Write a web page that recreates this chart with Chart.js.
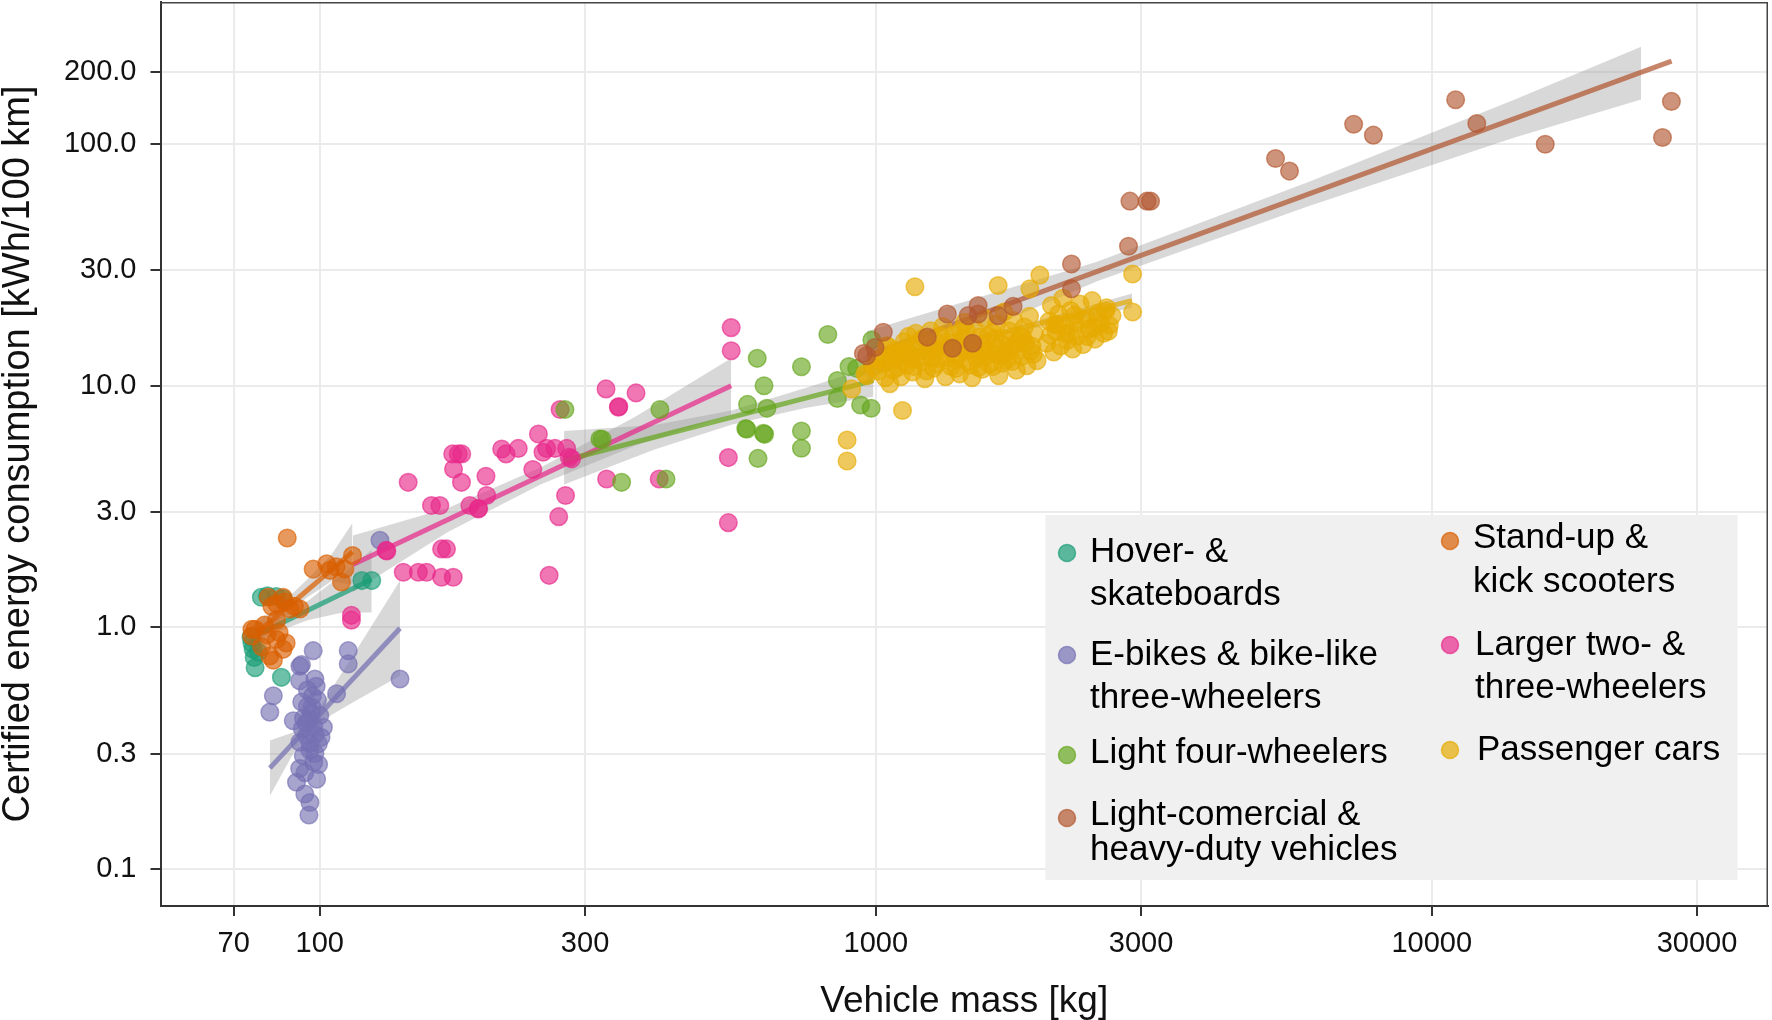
<!DOCTYPE html>
<html>
<head>
<meta charset="utf-8">
<title>Energy consumption vs vehicle mass</title>
<script src="https://cdn.jsdelivr.net/npm/chart.js@4.4.0/dist/chart.umd.min.js"></script>
<style>
  html, body { margin: 0; padding: 0; background: #fff; }
  canvas { display: block; }
</style>
</head>
<body>
<canvas id="massChart" width="1772" height="1020"></canvas>
<script>
// axis ticks
const xTicks = [70, 100, 300, 1000, 3000, 10000, 30000];
const xTickLabels = ['70', '100', '300', '1000', '3000', '10000', '30000'];
const yTicks = [0.1, 0.3, 1, 3, 10, 30, 100, 200];
const yTickLabels = ['0.1', '0.3', '1.0', '3.0', '10.0', '30.0', '100.0', '200.0'];

// Hover- & skateboards
const hoverMass = [78.5, 80.5, 83.5, 86, 119, 124, 75.9, 75.5, 76.5, 76.2, 85.3, 75.2, 77.5];
const hoverCons = [1.33, 1.35, 1.34, 1.31, 1.56, 1.56, 0.81, 0.86, 0.68, 0.75, 0.62, 0.91, 0.79];

// Stand-up & kick scooters
const scooterMass = [87.4, 97.3, 102.9, 104.3, 110.9, 114.5, 109.4, 107, 80.8, 85.9, 83.6, 88.4, 92.1, 82, 86.5, 90, 83.6, 76.5, 75.4, 80.3, 83.6, 85.9, 81.3, 78.6, 82.5, 79.5, 84.5, 87, 75.5];
const scooterCons = [2.34, 1.74, 1.83, 1.72, 1.74, 1.98, 1.54, 1.78, 1.33, 1.33, 1.25, 1.19, 1.19, 1.22, 1.27, 1.22, 1.07, 0.98, 0.92, 0.93, 0.89, 0.81, 0.76, 0.83, 0.73, 1.02, 0.95, 0.86, 0.98];

// E-bikes & bike-like three-wheelers
const ebikeMass = [128.3, 97.3, 112.5, 112.5, 139.4, 92.1, 82.5, 81.3, 98, 92, 107.2, 89.6, 101.5, 99.4, 90.8, 98.7, 94, 96, 95.6, 92.8, 96.8, 94.7, 93.4, 97.5, 92.1, 95.8, 100, 97, 95, 99, 93, 96, 98, 94, 96.5, 99.5, 92, 97.5, 95, 98.5, 93.5, 100.5, 92.7, 96, 94.5, 98];
const ebikeCons = [2.29, 0.80, 0.80, 0.705, 0.61, 0.69, 0.52, 0.445, 0.61, 0.60, 0.53, 0.41, 0.385, 0.329, 0.228, 0.235, 0.204, 0.188, 0.167, 0.49, 0.466, 0.356, 0.294, 0.276, 0.334, 0.417, 0.431, 0.52, 0.55, 0.50, 0.38, 0.31, 0.36, 0.25, 0.44, 0.27, 0.26, 0.39, 0.47, 0.57, 0.42, 0.35, 0.70, 0.33, 0.40, 0.30];

// Larger two- & three-wheelers
const largerMass = [144.2, 173.4, 177.4, 180, 174, 179.8, 158.8, 164.4, 186.2, 192.8, 199.6, 199, 212.4, 216.3, 227.5, 247.3, 241.6, 255.9, 264.9, 278, 283.8, 270.5, 276.7, 269, 258.5, 327.2, 370.5, 344.4, 328, 407.8, 131.6, 165.6, 169, 141.3, 150.4, 155.6, 165.6, 173.8, 114, 114, 549.5, 549.5, 543, 543, 252, 345, 281, 132, 193];
const largerCons = [3.98, 5.22, 5.22, 5.22, 4.52, 3.98, 3.19, 3.19, 3.19, 3.09, 3.51, 4.22, 5.47, 5.22, 5.5, 6.31, 4.5, 5.5, 5.5, 5.5, 4.98, 7.97, 3.51, 2.87, 1.64, 9.7, 9.34, 8.15, 4.11, 4.11, 2.08, 2.11, 2.11, 1.69, 1.69, 1.69, 1.61, 1.61, 1.12, 1.07, 17.4, 13.96, 5.04, 2.71, 5.3, 8.2, 5.05, 2.07, 3.1];

// Light four-wheelers
const lightMass = [276, 319, 409, 349, 419.5, 612, 629.5, 588, 637, 583.7, 631, 614, 735, 735, 735, 820, 895, 853, 853, 939, 981, 924, 984, 586, 628, 322];
const lightCons = [7.97, 6.02, 7.97, 3.98, 4.11, 12.98, 10.0, 8.37, 8.06, 6.65, 6.29, 5.0, 11.99, 6.49, 5.51, 16.3, 12.0, 10.5, 8.86, 8.32, 8.07, 11.8, 15.45, 6.6, 6.35, 6.0];

// Passenger cars
const carMass = [1176, 1660, 1973, 1893, 2897, 2897, 1117, 1060, 956, 905, 888, 888,
  963, 990, 1010, 1020, 1040, 1060, 1075, 1090, 1100, 1110, 1125, 1140, 1150, 1165, 1180, 1195, 1210, 1225, 1240, 1255,
  1270, 1290, 1305, 1320, 1335, 1350, 1365, 1380, 1400, 1415, 1430, 1445, 1460, 1475, 1490, 1505, 1520, 1540, 1555, 1570,
  1585, 1600, 1620, 1635, 1650, 1665, 1680, 1700, 1720, 1735, 1750, 1770, 1790, 1810, 1830, 1850, 1870, 1890, 1910, 1930, 1950,
  2030, 2050, 2070, 2090, 2110, 2130, 2150, 2170, 2190, 2210, 2240, 2260, 2280, 2300, 2330, 2360, 2390, 2420, 2450, 2480,
  2510, 2540, 2570, 2600, 2630, 2660,
  1030, 1085, 1135, 1200, 1260, 1330, 1390, 1450, 1510, 1580, 1640, 1710, 1780, 1840, 1900,
  1050, 1160, 1280, 1420, 1560, 1690, 1820, 2100, 2230, 2350, 2470, 2590,
  1005, 1045, 1070, 1095, 1120, 1145, 1170, 1190, 1215, 1235, 1265, 1285, 1310, 1345, 1370, 1395, 1425, 1455, 1480,
  1500, 1530, 1565, 1595, 1625, 1660, 1690, 1725, 1760, 1800, 1860, 1920, 2060, 2120, 2200, 2280, 2400, 2500, 2620];
const carCons = [25.7, 26.0, 28.7, 25.2, 29.0, 20.2, 7.9, 10.2, 11.2, 9.7, 5.96, 4.88,
  11.0, 12.0, 11.5, 13.0, 10.8, 12.5, 11.6, 14.0, 12.9, 10.9, 15.2, 12.2, 13.6, 11.4, 16.5, 14.5, 12.6, 10.7, 13.8, 16.9,
  11.8, 15.0, 12.9, 17.6, 10.9, 14.2, 12.0, 16.2, 13.3, 11.2, 15.6, 18.3, 12.6, 14.6, 10.8, 17.2, 13.0, 15.9, 11.7, 19.0,
  14.0, 12.3, 16.6, 13.5, 18.0, 11.0, 15.0, 20.2, 12.8, 16.9, 14.2, 18.6, 11.6, 15.4, 13.2, 17.5, 12.1, 19.4, 14.6, 16.4, 12.7,
  15.0, 18.5, 21.5, 13.8, 16.8, 19.8, 14.6, 23.0, 17.6, 15.4, 20.5, 14.2, 18.2, 16.0, 21.8, 14.8, 19.0, 17.2, 22.5, 15.6,
  20.0, 18.0, 16.5, 21.0, 17.8, 19.5,
  12.4, 13.2, 14.1, 15.4, 13.0, 14.8, 12.8, 13.9, 14.4, 13.3, 15.7, 13.6, 14.9, 15.8, 13.9,
  14.6, 12.9, 14.0, 16.8, 14.8, 12.4, 16.0, 17.9, 16.6, 18.8, 17.4, 20.4,
  12.8, 14.6, 13.4, 11.9, 13.8, 16.0, 12.0, 13.1, 15.7, 11.5, 14.3, 12.3, 16.0, 13.0, 15.1, 11.8, 14.2, 16.8, 12.2,
  14.0, 11.9, 13.8, 16.0, 12.0, 14.4, 13.2, 15.5, 12.6, 14.0, 15.0, 13.5, 16.2, 18.0, 16.4, 19.6, 16.0, 18.5, 16.8];

// Light-comercial & heavy-duty vehicles
const heavyMass = [950, 963, 996.8, 1031.6, 1345, 1238, 1374, 1493, 1528, 1528, 1466, 1660, 1766, 2249, 2249, 2848, 2865, 3076, 3120, 5236, 5548, 7236, 7852, 11040, 12050, 16000, 26000, 26980];
const heavyCons = [13.6, 13.3, 14.4, 16.65, 19.8, 15.9, 14.3, 15.0, 21.5, 19.8, 19.5, 19.5, 21.3, 31.9, 25.2, 37.8, 58.1, 58.1, 58.1, 87.2, 77.4, 121, 109, 152.8, 121.8, 100, 106.6, 150.4];

// fitted lines (end points)
const hoverFitMass = [75, 124], hoverFitCons = [0.90, 1.58];
const scooterFitMass = [76, 114.5], scooterFitCons = [0.92, 2.05];
const ebikeFitMass = [81.3, 139.4], ebikeFitCons = [0.261, 0.99];
const largerFitMass = [114.7, 549.5], largerFitCons = [1.82, 10.0];
const lightFitMass = [275, 990], lightFitCons = [4.9, 10.5];
const carFitMass = [950, 2890], carFitCons = [12.0, 22.5];
const heavyFitMass = [963, 27000], heavyFitCons = [13.3, 221];

// confidence bands
const hoverBandMass = [75, 85, 95, 110, 124];
const hoverBandLow = [0.80, 0.97, 1.07, 1.15, 1.15];
const hoverBandHigh = [1.01, 1.11, 1.28, 1.66, 2.1];
const scooterBandMass = [76, 85, 95, 105, 114.5];
const scooterBandLow = [0.82, 1.08, 1.33, 1.55, 1.5];
const scooterBandHigh = [1.03, 1.24, 1.58, 2.0, 2.7];
const ebikeBandMass = [81.3, 90, 100, 115, 139.4];
const ebikeBandLow = [0.20, 0.306, 0.406, 0.49, 0.63];
const ebikeBandHigh = [0.34, 0.368, 0.466, 0.77, 1.56];
const largerBandMass = [114.7, 170, 250, 370, 549.5];
const largerBandLow = [1.4, 2.48, 3.91, 5.66, 7.6];
const largerBandHigh = [2.4, 3.12, 4.6, 7.46, 13.0];
const lightBandMass = [275, 400, 550, 750, 990];
const lightBandLow = [3.9, 5.45, 6.9, 8.1, 9.0];
const lightBandHigh = [6.5, 6.87, 7.9, 9.8, 12.0];
const carBandMass = [950, 1300, 1700, 2200, 2890];
const carBandLow = [10.9, 13.8, 16.2, 18.5, 21.0];
const carBandHigh = [13.2, 14.8, 17.1, 20.1, 24.1];
const heavyBandMass = [963, 2500, 6000, 14000, 23800];
const heavyBandLow = [10.5, 27.1, 55.4, 106, 153];
const heavyBandHigh = [16.8, 32.6, 69.8, 152, 253];

// colours (Dark2 + brown)
const colHover = [27, 158, 119];
const colScooter = [217, 95, 2];
const colEbike = [117, 112, 179];
const colLarger = [231, 41, 138];
const colLight = [102, 166, 30];
const colCar = [230, 171, 2];
const colHeavy = [178, 88, 48];

const FONT = "'Liberation Sans', Arial, Helvetica, sans-serif";
const rgba = (c, a) => `rgba(${c[0]},${c[1]},${c[2]},${a})`;
const pts = (xs, ys) => xs.map((x, i) => ({ x: x, y: ys[i] }));

const groups = [
  { mass: hoverMass, cons: hoverCons, fm: hoverFitMass, fc: hoverFitCons, bm: hoverBandMass, bl: hoverBandLow, bh: hoverBandHigh, col: colHover, z: 7 },
  { mass: ebikeMass, cons: ebikeCons, fm: ebikeFitMass, fc: ebikeFitCons, bm: ebikeBandMass, bl: ebikeBandLow, bh: ebikeBandHigh, col: colEbike, z: 6 },
  { mass: largerMass, cons: largerCons, fm: largerFitMass, fc: largerFitCons, bm: largerBandMass, bl: largerBandLow, bh: largerBandHigh, col: colLarger, z: 5 },
  { mass: scooterMass, cons: scooterCons, fm: scooterFitMass, fc: scooterFitCons, bm: scooterBandMass, bl: scooterBandLow, bh: scooterBandHigh, col: colScooter, z: 4 },
  { mass: lightMass, cons: lightCons, fm: lightFitMass, fc: lightFitCons, bm: lightBandMass, bl: lightBandLow, bh: lightBandHigh, col: colLight, z: 3 },
  { mass: carMass, cons: carCons, fm: carFitMass, fc: carFitCons, bm: carBandMass, bl: carBandLow, bh: carBandHigh, col: colCar, z: 2 },
  { mass: heavyMass, cons: heavyCons, fm: heavyFitMass, fc: heavyFitCons, bm: heavyBandMass, bl: heavyBandLow, bh: heavyBandHigh, col: colHeavy, z: 1 }
];

const datasets = [];
groups.forEach((g) => {
  // band: upper edge filled down to the lower edge
  datasets.push({
    type: 'line', data: pts(g.bm, g.bh), showLine: true, fill: '+1',
    backgroundColor: 'rgba(153,153,153,0.38)', borderColor: 'transparent', borderWidth: 0,
    pointRadius: 0, order: 100 + g.z
  });
  datasets.push({
    type: 'line', data: pts(g.bm, g.bl), showLine: true, fill: false,
    borderColor: 'transparent', borderWidth: 0, pointRadius: 0, order: 100 + g.z
  });
  datasets.push({
    type: 'line', data: pts(g.fm, g.fc), showLine: true, fill: false,
    borderColor: rgba(g.col, 0.72), borderWidth: 5, pointRadius: 0, order: 50 + g.z
  });
  datasets.push({
    type: 'scatter', data: pts(g.mass, g.cons),
    backgroundColor: rgba(g.col, 0.64), borderColor: rgba(g.col, 0.64), borderWidth: 1.5,
    pointRadius: 8.8, pointHoverRadius: 8.8, order: g.z
  });
});

// legend drawn in the panel, two columns like the original
const legendItems = [
  { col: colHover, dot: [1067, 553], tx: 1090, lines: [['Hover- &', 562], ['skateboards', 605]] },
  { col: colEbike, dot: [1067, 655], tx: 1090, lines: [['E-bikes & bike-like', 665], ['three-wheelers', 708]] },
  { col: colLight, dot: [1067, 755], tx: 1090, lines: [['Light four-wheelers', 763]] },
  { col: colHeavy, dot: [1067, 818], tx: 1090, lines: [['Light-comercial &', 825], ['heavy-duty vehicles', 860]] },
  { col: colScooter, dot: [1450, 541], tx: 1473, lines: [['Stand-up &', 548], ['kick scooters', 592]] },
  { col: colLarger, dot: [1450, 645], tx: 1475, lines: [['Larger two- &', 655], ['three-wheelers', 698]] },
  { col: colCar, dot: [1450, 750], tx: 1477, lines: [['Passenger cars', 760]] }
];

const panelLegend = {
  id: 'panelLegend',
  afterDatasetsDraw(chart) {
    const c = chart.ctx;
    c.save();
    c.fillStyle = '#F0F0F0';
    c.fillRect(1045.5, 515, 692, 365);
    legendItems.forEach((it) => {
      c.beginPath();
      c.arc(it.dot[0], it.dot[1], 8.5, 0, Math.PI * 2);
      c.fillStyle = rgba(it.col, 0.7);
      c.fill();
      c.lineWidth = 1.5;
      c.strokeStyle = rgba(it.col, 0.7);
      c.stroke();
      c.fillStyle = '#000';
      c.font = '35px ' + FONT;
      c.textAlign = 'left';
      c.textBaseline = 'alphabetic';
      it.lines.forEach((ln) => c.fillText(ln[0], it.tx, ln[1]));
    });
    c.restore();
  },
  afterDraw(chart) {
    // top and right panel border
    const a = chart.chartArea;
    const c = chart.ctx;
    c.save();
    c.strokeStyle = '#444';
    c.lineWidth = 1.5;
    c.beginPath();
    c.moveTo(a.left, a.top + 0.75);
    c.lineTo(a.right - 0.75, a.top + 0.75);
    c.lineTo(a.right - 0.75, a.bottom);
    c.stroke();
    c.restore();
  }
};

const ctx = document.getElementById('massChart').getContext('2d');
const chart = new Chart(ctx, {
  type: 'scatter',
  data: { datasets: datasets },
  options: {
    responsive: false,
    animation: false,
    events: [],
    layout: { autoPadding: false, padding: { left: 0, right: 4, top: 2, bottom: 0 } },
    plugins: { legend: { display: false }, tooltip: { enabled: false } },
    scales: {
      x: {
        type: 'logarithmic',
        min: 51.7,
        max: 40250,
        afterBuildTicks: (s) => { s.ticks = xTicks.map((v) => ({ value: v })); },
        afterFit: (s) => { s.height = 114; s.paddingLeft = 0; s.paddingRight = 0; },
        ticks: {
          autoSkip: false, maxRotation: 0, padding: 11, color: '#111',
          font: { family: FONT, size: 29 },
          callback: (v, i) => xTickLabels[i]
        },
        grid: { color: '#EBEBEB', lineWidth: 2, tickColor: '#333', tickWidth: 2, tickLength: 10 },
        border: { display: true, color: '#333', width: 2 },
        title: {
          display: true, text: 'Vehicle mass [kg]', color: '#111', padding: 0,
          font: { family: FONT, size: 37, lineHeight: 1 }
        }
      },
      y: {
        type: 'logarithmic',
        min: 0.0701,
        max: 388,
        afterBuildTicks: (s) => { s.ticks = yTicks.map((v) => ({ value: v })); },
        afterFit: (s) => { s.width = 160.5; s.paddingTop = 0; s.paddingBottom = 0; },
        ticks: {
          autoSkip: false, padding: 14, color: '#111',
          font: { family: FONT, size: 29 },
          callback: (v, i) => yTickLabels[i]
        },
        grid: { color: '#EBEBEB', lineWidth: 2, tickColor: '#333', tickWidth: 2, tickLength: 10 },
        border: { display: true, color: '#333', width: 2 },
        title: {
          display: true, text: 'Certified energy consumption [kWh/100 km]', color: '#111', padding: 0,
          font: { family: FONT, size: 38, lineHeight: 1 }
        }
      }
    }
  },
  plugins: [panelLegend]
});
</script>
</body>
</html>
